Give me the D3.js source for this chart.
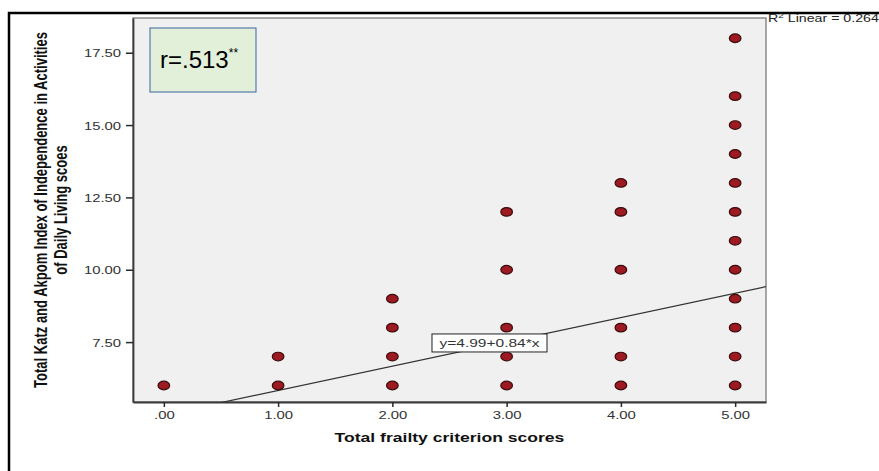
<!DOCTYPE html>
<html>
<head>
<meta charset="utf-8">
<script src="https://cdn.jsdelivr.net/npm/d3@7"></script>
<style>
  html, body { margin: 0; padding: 0; background: #ffffff; overflow: hidden; }
  svg { display: block; }
</style>
</head>
<body>
<svg id="chart" width="879" height="471"></svg>
<script>
// ---- data ----
const frailtyScores = [0, 1,1, 2,2,2,2, 3,3,3,3,3, 4,4,4,4,4,4, 5,5,5,5,5,5,5,5,5,5,5,5];
const adlScores     = [6, 6,7, 6,7,8,9, 6,7,8,10,12, 6,7,8,10,12,13, 6,7,8,9,10,11,12,13,14,15,16,18];
const xTickValues = [0, 1, 2, 3, 4, 5];
const xTickLabels = [".00", "1.00", "2.00", "3.00", "4.00", "5.00"];
const yTickValues = [7.5, 10, 12.5, 15, 17.5];
const yTickLabels = ["7.50", "10.00", "12.50", "15.00", "17.50"];
const fitIntercept = 4.99;
const fitSlope = 0.84;
const fitLabel = "y=4.99+0.84*x";
const rSquaredLabel = "0.264";
const rValueLabel = "r=.513";
const xTitle = "Total frailty criterion scores";
const yTitleLines = ["Total Katz and Akpom Index of Independence in Activities", "of Daily Living scoes"];

// ---- layout ----
const SX = 1.35; // horizontal stretch of the original picture
const plot = { left: 133, right: 766, top: 18, bottom: 402 };
const svg = d3.select("#chart");

const x = d3.scaleLinear().domain([-0.27, 5.27]).range([plot.left, plot.right]);
const y = d3.scaleLinear().domain([5.43, 18.7]).range([plot.bottom, plot.top]);

// outer frame (left + top border)
svg.append("path")
  .attr("d", `M9,471 V13 H879`)
  .attr("fill", "none").attr("stroke", "#000").attr("stroke-width", 2.5);

// plot background
svg.append("rect")
  .attr("x", plot.left).attr("y", plot.top)
  .attr("width", plot.right - plot.left).attr("height", plot.bottom - plot.top)
  .attr("fill", "#f0f0f0").attr("stroke", "#8a8a8a").attr("stroke-width", 1.5);

svg.append("clipPath").attr("id", "plotClip")
  .append("rect")
  .attr("x", plot.left).attr("y", plot.top)
  .attr("width", plot.right - plot.left).attr("height", plot.bottom - plot.top);

// axes
const fontFam = "'Liberation Sans', Arial, Helvetica, sans-serif";
const xAxis = d3.axisBottom(x).tickValues(xTickValues)
  .tickFormat((d, i) => xTickLabels[i]).tickSize(5).tickSizeOuter(0);
const gx = svg.append("g").attr("transform", `translate(0,${plot.bottom})`).call(xAxis);
const yAxis = d3.axisLeft(y).tickValues(yTickValues)
  .tickFormat((d, i) => yTickLabels[i]).tickSize(7).tickSizeOuter(0);
const gy = svg.append("g").attr("transform", `translate(${plot.left},0)`).call(yAxis);

[gx, gy].forEach(g => {
  g.select(".domain").attr("stroke", "#3a3a3a").attr("stroke-width", 1.8);
  g.selectAll(".tick line").attr("stroke", "#2a2a2a").attr("stroke-width", 1.5);
  g.selectAll(".tick text")
    .attr("font-family", fontFam).attr("font-size", 11).attr("fill", "#333");
});
gx.selectAll(".tick text").each(function () {
  d3.select(this).attr("y", null).attr("dy", null)
    .attr("transform", `translate(0,17) scale(${SX},1)`);
});
gy.selectAll(".tick text").each(function () {
  d3.select(this).attr("x", null).attr("dy", null)
    .attr("transform", `translate(-12,4) scale(${SX},1)`);
});

// regression line
svg.append("line")
  .attr("clip-path", "url(#plotClip)")
  .attr("x1", x(x.domain()[0])).attr("y1", y(fitIntercept + fitSlope * x.domain()[0]))
  .attr("x2", x(x.domain()[1])).attr("y2", y(fitIntercept + fitSlope * x.domain()[1]))
  .attr("stroke", "#333").attr("stroke-width", 1.2);

// points
svg.append("g").selectAll("ellipse")
  .data(frailtyScores.map((f, i) => ({ f, a: adlScores[i] })))
  .join("ellipse")
  .attr("cx", d => x(d.f)).attr("cy", d => y(d.a))
  .attr("rx", 5.8).attr("ry", 4.3)
  .attr("fill", "#9e1a22").attr("stroke", "#3b0b0b").attr("stroke-width", 1.2);

// fit label box (anchored at data coordinates)
const fitLab = svg.append("g")
  .attr("transform", `translate(${x(2.85)},${y(7.47)})`);
fitLab.append("rect")
  .attr("x", -57.5).attr("y", -9).attr("width", 115).attr("height", 18)
  .attr("fill", "#ffffff").attr("stroke", "#222").attr("stroke-width", 1);
fitLab.append("text")
  .attr("transform", `translate(0,4.5) scale(${SX},1)`)
  .attr("text-anchor", "middle")
  .attr("font-family", fontFam).attr("font-size", 11.5).attr("fill", "#333")
  .text(fitLabel);

// R² label
const r2 = svg.append("text")
  .attr("transform", `translate(${plot.right + 2},22) scale(${SX},1)`)
  .attr("font-family", fontFam).attr("font-size", 10.5).attr("fill", "#222");
r2.append("tspan").text("R");
r2.append("tspan").attr("font-size", 7.5).attr("dy", -4.5).text("2");
r2.append("tspan").attr("dy", 4.5).text(" Linear = " + rSquaredLabel);

// r box
svg.append("rect")
  .attr("x", 150).attr("y", 28).attr("width", 106).attr("height", 64)
  .attr("fill", "#e2efd9").attr("stroke", "#3b64a0").attr("stroke-width", 1);
const rt = svg.append("text")
  .attr("x", 160).attr("y", 68)
  .attr("font-family", fontFam).attr("font-size", 24).attr("fill", "#000");
rt.append("tspan").text(rValueLabel);
rt.append("tspan").attr("font-size", 12).attr("dy", -11).text("**");

// x title
svg.append("text")
  .attr("transform", `translate(${(plot.left + plot.right) / 2},442) scale(${SX},1)`)
  .attr("text-anchor", "middle")
  .attr("font-family", fontFam).attr("font-size", 13).attr("font-weight", "bold")
  .attr("fill", "#111")
  .text(xTitle);

// y title (two rotated lines), font size fitted to the target length
const yt = svg.append("g")
  .attr("transform", `translate(0,210) scale(${SX},1) rotate(-90)`);
const yLens = [356, 126];
const yBase = [34.6, 49.4];
const yFont = "'Liberation Sans Narrow', 'Arial Narrow', " + fontFam;
const first = yt.append("text")
  .attr("text-anchor", "middle").attr("font-family", yFont)
  .attr("font-size", 14.5).attr("font-weight", "bold").attr("fill", "#111")
  .attr("x", 0).attr("y", yBase[0]).text(yTitleLines[0]);
const len0 = first.node().getComputedTextLength();
const fs = len0 > 0 ? 14.5 * yLens[0] / len0 : 14.5;
first.attr("font-size", fs);
yt.append("text")
  .attr("text-anchor", "middle").attr("font-family", yFont)
  .attr("font-size", fs).attr("font-weight", "bold").attr("fill", "#111")
  .attr("x", 0).attr("y", yBase[1]).text(yTitleLines[1]);
</script>
</body>
</html>
